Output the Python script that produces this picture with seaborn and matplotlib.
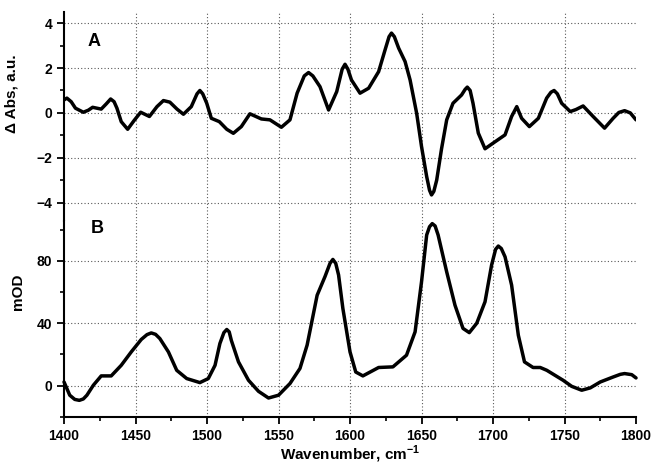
#!/usr/bin/env python3
"""
Difference spectrum (A) and absorption spectrum (B) over 1400-1800 cm-1.
"""

import pandas as pd
import matplotlib
matplotlib.use("Agg")
import matplotlib.pyplot as plt
from matplotlib.ticker import MultipleLocator
import seaborn as sns

# Panel A: difference spectrum
wn_a = [1400, 1402, 1405, 1408, 1413.5, 1417, 1420, 1426, 1429.5, 1432.6, 1435,
        1437, 1440, 1444.5, 1449, 1453.6, 1459.7, 1465, 1469.5, 1474, 1479,
        1483.5, 1489, 1493, 1495, 1497, 1499.8, 1503, 1508.6, 1513.8, 1518.4,
        1524, 1530, 1538, 1544, 1552, 1558, 1563, 1568, 1571, 1574, 1579, 1585,
        1590.7, 1594.5, 1596.5, 1598.5, 1601, 1607, 1613, 1620, 1624.5, 1627.3,
        1629, 1631, 1634, 1638.5, 1642, 1646.6, 1650, 1653.6, 1655.6, 1657,
        1658.6, 1660.6, 1664, 1667.6, 1672, 1678, 1680.5, 1682, 1684, 1686,
        1689.7, 1694.4, 1700, 1708.4, 1713, 1716.6, 1720, 1725.4, 1731.7, 1737.5,
        1740.5, 1742.7, 1745, 1748, 1754, 1758, 1763, 1770, 1778, 1784, 1788,
        1792, 1796, 1800]
abs_a = [0.58, 0.66, 0.5, 0.21, 0.03, 0.12, 0.25, 0.17, 0.4, 0.62, 0.5,
         0.21, -0.39, -0.73, -0.34, 0.03, -0.16, 0.28, 0.55, 0.48, 0.17,
         -0.06, 0.28, 0.85, 1.0, 0.85, 0.43, -0.24, -0.39, -0.73, -0.91,
         -0.61, -0.04, -0.27, -0.31, -0.64, -0.31, 0.88, 1.65, 1.8, 1.65, 1.17, 0.13,
         0.95, 1.95, 2.17, 1.95, 1.47, 0.88, 1.1, 1.84, 2.81, 3.4,
         3.56, 3.4, 2.89, 2.29, 1.47, -0.02, -1.5, -2.84, -3.45, -3.66,
         -3.5, -3.0, -1.6, -0.31, 0.43, 0.8, 1.05, 1.15, 1.0, 0.43,
         -0.9, -1.6, -1.35, -0.98, -0.16, 0.28, -0.24, -0.61, -0.24, 0.66,
         0.92, 1.0, 0.85, 0.43, 0.06, 0.15, 0.31, -0.16, -0.68, -0.24, 0.02,
         0.1, 0.0, -0.31]

# Panel B: absorption spectrum, mOD
wn_b = [1400, 1404, 1407.5, 1410.7, 1413.5, 1416, 1420.5, 1426, 1433, 1440, 1447,
        1454, 1458, 1461, 1464, 1467, 1473, 1478.8, 1485.8, 1495, 1500.9, 1505.6,
        1509, 1511.8, 1513.8, 1515.5, 1517, 1522, 1529, 1536, 1543, 1550, 1558,
        1565, 1570, 1577, 1582.5, 1586, 1588, 1590, 1592, 1595, 1600, 1604,
        1609, 1620, 1630, 1639.5, 1645.5, 1650, 1653.6, 1655.6, 1657.5, 1659.5,
        1661.6, 1667.6, 1673.4, 1679, 1683.4, 1688.6, 1694.4, 1699, 1701.8,
        1703.7, 1705.8, 1708.4, 1713, 1717.7, 1722, 1728, 1733, 1737.6, 1749,
        1755, 1762, 1768, 1775, 1784, 1789, 1792, 1797, 1800]
mod_b = [2.3, -6.2, -8.9, -9.5, -8.6, -6.2, 0.2, 6.2, 6.2, 13, 21.6,
         29.6, 32.7, 33.8, 32.9, 30.2, 21.6, 9.8, 4.5, 1.9, 4.5, 13,
         27, 34, 36, 34.5, 29, 15.2, 3.4, -3.7, -8, -6.2, 1.3,
         11, 26, 58, 70, 78.5, 81, 78.5, 71, 49.5, 21.6, 8.7,
         6.2, 11.6, 12, 19.5, 34.5, 66.6, 96.7, 102, 104, 102.5,
         96.7, 73, 51.6, 36.7, 34, 40, 53.8, 77.4, 87.5,
         89.6, 88, 82.7, 64.5, 32.3, 15.2, 11.6, 11.6, 9.8, 3.4,
         -0.5, -3, -1.5, 2.3, 5.5, 7.2, 7.7, 7, 4.9]

GRID_KW = dict(color="0.35", lw=0.8, ls=(0, (1, 2)), zorder=0)

def style_axis(ax, grid_y):
    """Spines, ticks and dotted grid common to both panels."""
    for side in ("top", "right"):
        ax.spines[side].set_visible(False)
    ax.spines["left"].set_linewidth(1.5)
    ax.spines["bottom"].set_linewidth(1.5)
    ax.set_xlim(1400, 1800)
    ax.xaxis.set_major_locator(MultipleLocator(50))
    ax.xaxis.set_minor_locator(MultipleLocator(25))
    ax.tick_params(which="major", direction="out", length=5, width=1.3,
                   labelsize=10, colors="black", left=True, bottom=True)
    ax.tick_params(which="minor", direction="out", length=3, width=1.2,
                   colors="black", left=True, bottom=True)
    for lab in ax.get_xticklabels() + ax.get_yticklabels():
        lab.set_fontweight("bold")
    for x in range(1450, 1800, 50):
        ax.axvline(x, **GRID_KW)
    for y in grid_y:
        ax.axhline(y, **GRID_KW)
    ax.grid(False)

def main():
    sns.set_style("ticks")
    plt.rcParams["font.family"] = ["Liberation Sans", "DejaVu Sans"]
    plt.rcParams["font.weight"] = "bold"
    plt.rcParams["text.color"] = "black"
    plt.rcParams["axes.labelcolor"] = "black"
    plt.rcParams["axes.edgecolor"] = "black"
    plt.rcParams["mathtext.fontset"] = "custom"
    plt.rcParams["mathtext.rm"] = "Liberation Sans:bold"
    plt.rcParams["mathtext.bf"] = "Liberation Sans:bold"

    df_a = pd.DataFrame({"wn": wn_a, "val": abs_a})
    df_b = pd.DataFrame({"wn": wn_b, "val": mod_b})

    fig = plt.figure(figsize=(6.52, 4.66), dpi=100)
    ax_a = fig.add_axes([0.0982, 0.5268, 0.8773, 0.4474])
    ax_b = fig.add_axes([0.0982, 0.1058, 0.8773, 0.4210], sharex=ax_a)

    sns.lineplot(data=df_a, x="wn", y="val", ax=ax_a, color="black", lw=2.5,
                 sort=False, solid_joinstyle="round", solid_capstyle="round")
    sns.lineplot(data=df_b, x="wn", y="val", ax=ax_b, color="black", lw=2.5,
                 sort=False, solid_joinstyle="round", solid_capstyle="round")
    for line in ax_b.get_lines():
        line.set_clip_on(False)

    # panel A
    ax_a.set_ylim(-4.8, 4.5)
    ax_a.yaxis.set_major_locator(MultipleLocator(2))
    ax_a.yaxis.set_minor_locator(MultipleLocator(1))
    style_axis(ax_a, [-4, -2, 0, 2, 4])
    ax_a.spines["bottom"].set_visible(False)
    ax_a.tick_params(axis="x", which="both", bottom=False, labelbottom=False)
    ax_a.set_xlabel("")
    ax_a.set_ylabel("Δ Abs, a.u.", fontsize=11, fontweight="bold")
    ax_a.yaxis.set_label_coords(-0.080, 0.607)
    ax_a.text(1421, 3.2, "A", fontsize=13, fontweight="bold", ha="center", va="center")

    # panel B
    ax_b.set_ylim(-20, 106)
    ax_b.yaxis.set_major_locator(MultipleLocator(40))
    ax_b.yaxis.set_minor_locator(MultipleLocator(20))
    style_axis(ax_b, [0, 40, 80])
    ax_b.set_ylabel("mOD", fontsize=11, fontweight="bold")
    ax_b.yaxis.set_label_coords(-0.068, 0.636)
    ax_b.set_xlabel(r"Wavenumber, cm$^{-1}$", fontsize=11, fontweight="bold", labelpad=1)
    ax_b.text(1423, 101, "B", fontsize=13, fontweight="bold", ha="center", va="center")

    fig.savefig("out.png", dpi=100)

if __name__ == "__main__":
    main()
